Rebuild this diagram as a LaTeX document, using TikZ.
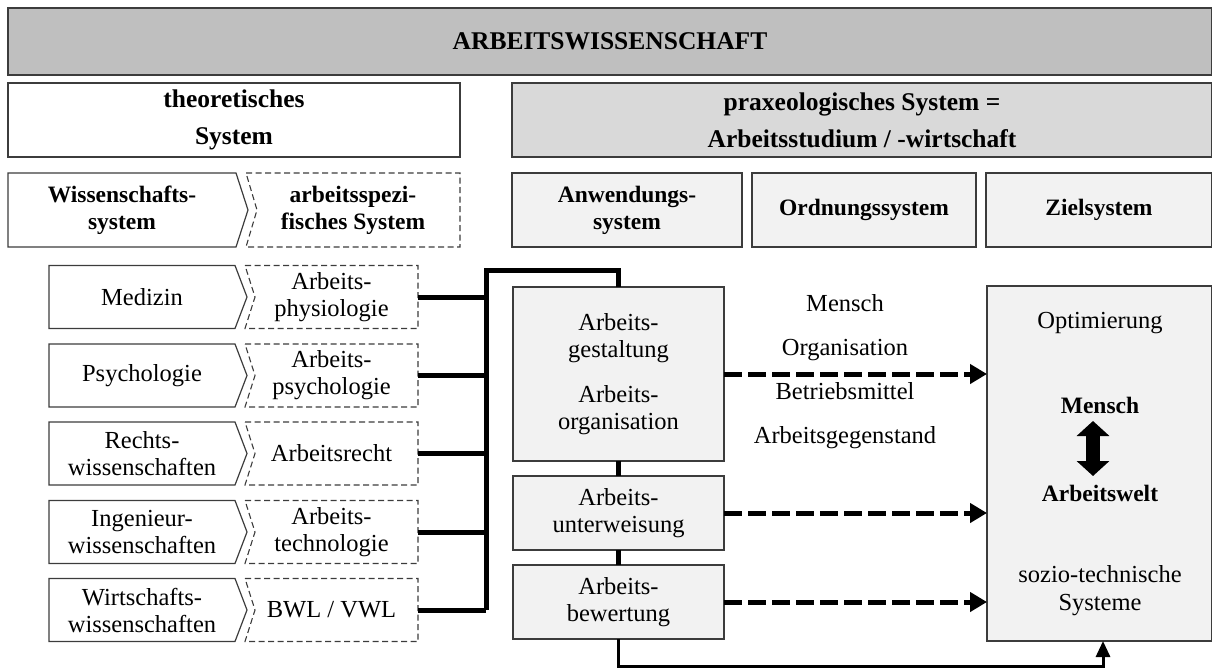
\documentclass[tikz,border=0pt]{standalone}
\usepackage{fontspec}
\setmainfont{Liberation Serif}
\usetikzlibrary{arrows.meta}
\definecolor{titlefill}{HTML}{BFBFBF}
\definecolor{praxfill}{HTML}{D9D9D9}
\definecolor{boxfill}{HTML}{F2F2F2}
\definecolor{edge}{HTML}{3C3C3C}
\begin{document}
\begin{tikzpicture}[x=1pt,y=-1pt,
  every node/.style={font=\fontsize{24.5}{27}\selectfont, align=center, inner sep=0pt, outer sep=0pt},
  head/.style={font=\fontsize{23.5}{27}\selectfont\bfseries},
  headbig/.style={font=\fontsize{25.5}{37}\selectfont\bfseries},
  frame/.style={draw=edge, line width=1.2pt},
  dframe/.style={draw=edge, line width=1.1pt, dash pattern=on 6pt off 3.5pt},
  shade/.style={frame, fill=boxfill},
  heavy/.style={line width=5pt, line join=miter},
  feed/.style={line width=5pt, dash pattern=on 18pt off 6pt, -{Triangle[length=17pt,width=19pt]}},
  back/.style={line width=3pt, line join=miter, -{Triangle[length=16pt,width=14pt]}},
  fat/.style={line width=14pt, {Triangle[length=15pt,width=32pt]}-{Triangle[length=15pt,width=32pt]}}]
\useasboundingbox (0,0) rectangle (1212,669);

% top level
\node[frame, fill=titlefill, headbig, minimum width=1204pt, minimum height=67pt] (title) at (610,41.5) {ARBEITSWISSENSCHAFT};
\node[frame, fill=white, headbig, minimum width=452pt, minimum height=74pt] (theo) at (234,120) {theoretisches\\System};
\node[frame, fill=praxfill, headbig, minimum width=700pt, minimum height=74pt] (prax) at (862,120) {praxeologisches System =\\Arbeitsstudium / -wirtschaft};

% second level: theoretical side
\node[head, minimum width=228pt, minimum height=74pt] (wiss) at (122,210) {Wissenschafts-\\system};
\draw[frame] (wiss.north west) -- (wiss.north east) -- ++(12,37) -- (wiss.south east) -- (wiss.south west) -- cycle;
\node[head, minimum width=214pt, minimum height=74pt] (spez) at (353,210) {arbeitsspezi-\\fisches System};
\draw[dframe] (spez.north west) -- (spez.north east) -- (spez.south east) -- (spez.south west) -- ++(11,-37) -- cycle;

% second level: practical side
\node[shade, head, minimum width=230pt, minimum height=74pt] (anw) at (627,210) {Anwendungs-\\system};
\node[shade, head, minimum width=224pt, minimum height=74pt] (ord) at (864,210) {Ordnungssystem};
\node[shade, head, minimum width=226pt, minimum height=74pt] (ziel) at (1099,210) {Zielsystem};

% disciplines and their work-specific branches
\coordinate (bustop) at (486,270);
\foreach \n/\cy/\lt/\rt in {
  phys/297/{Medizin}/{Arbeits-\\physiologie},
  psy/375.5/{Psychologie}/{Arbeits-\\psychologie},
  recht/453.5/{Rechts-\\wissenschaften}/{Arbeitsrecht},
  tech/532/{Ingenieur-\\wissenschaften}/{Arbeits-\\technologie},
  wirt/610/{Wirtschafts-\\wissenschaften}/{BWL / VWL}} {
  \node[minimum width=186pt, minimum height=63pt] (L\n) at (142,\cy) {\lt};
  \draw[frame] (L\n.north west) -- (L\n.north east) -- ++(12,31.5) -- (L\n.south east) -- (L\n.south west) -- cycle;
  \node[minimum width=173pt, minimum height=63pt] (R\n) at (331.5,\cy) {\rt};
  \draw[dframe] (R\n.north west) -- (R\n.north east) -- (R\n.south east) -- (R\n.south west) -- ++(10,-31.5) -- cycle;
  \draw[heavy] (R\n.east) -- (R\n.east -| bustop);
}

% application system
\node[shade, minimum width=211pt, minimum height=174pt] (gest) at (618.5,374) {Arbeits-\\gestaltung\\[18pt]Arbeits-\\organisation};
\node[shade, minimum width=211pt, minimum height=74pt] (unter) at (618.5,513) {Arbeits-\\unterweisung};
\node[shade, minimum width=211pt, minimum height=74pt] (bew) at (618.5,602) {Arbeits-\\bewertung};

% goal system
\node[shade, minimum width=225pt, minimum height=355pt] (zbox) at (1099.5,463.5) {};
\node (opt) at (1100,323) {Optimierung};
\node[head] (zm) at (1100,405) {Mensch};
\node[head] (zw) at (1100,493) {Arbeitswelt};
\node[font=\fontsize{24.5}{28}\selectfont] (sozio) at (1100,591) {sozio-technische\\Systeme};
\coordinate (dtop) at (1093,421);
\coordinate (dbot) at (1093,476);
\draw[fat] (dtop) -- (dbot);

% objects of work design
\node[font=\fontsize{24.5}{44}\selectfont] (obj) at (845,372) {Mensch\\Organisation\\Betriebsmittel\\Arbeitsgegenstand};

% connectors
\draw[heavy] (Rwirt.east -| bustop) -- (bustop) -| (gest.north);
\draw[heavy] (gest.south) -- (unter.north);
\draw[heavy] (unter.south) -- (bew.north);
\draw[feed] (gest.east) -- (gest.east -| zbox.west);
\draw[feed] (unter.east) -- (unter.east -| zbox.west);
\draw[feed] (bew.east) -- (bew.east -| zbox.west);
\coordinate (floor) at (0,666);
\coordinate (rise) at (1103,0);
\draw[back] (bew.south) -- (bew.south |- floor) -| (rise |- zbox.south);
\end{tikzpicture}
\end{document}
